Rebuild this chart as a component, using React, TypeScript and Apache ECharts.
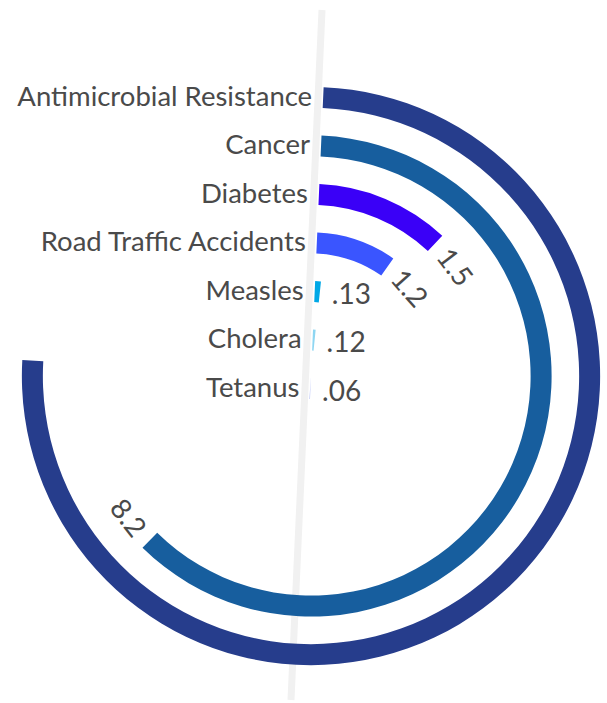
import React, { useEffect, useRef } from 'react';
import * as echarts from 'echarts';

// Annual deaths (millions)
const categories = [
  'Antimicrobial Resistance',
  'Cancer',
  'Diabetes',
  'Road Traffic Accidents',
  'Measles',
  'Cholera',
  'Tetanus',
];
const deaths = [10, 8.2, 1.5, 1.2, 0.13, 0.12, 0.06];
const hiddenValueLabels = ['Antimicrobial Resistance'];
const colors = ['#263d8c', '#175e9e', '#3a00f7', '#3a55ff', '#00a8e6', '#8ed6f2', '#b9c3f7'];

const ANGLE_MAX = 13.3;
const BAR_WIDTH = 21;
const FONT = 'Lato, "Open Sans", sans-serif';
const TEXT_COLOR = '#4a4a4a';

function fmt(v: number): string {
  return String(v).replace(/^0\./, '.');
}

export default function App() {
  const ref = useRef<HTMLDivElement>(null);
  useEffect(() => {
    if (!ref.current) return;
    const chart = echarts.init(ref.current, undefined, { renderer: 'svg' });
    const option: any = {
      animation: false,
      backgroundColor: '#ffffff',
      graphic: [
        {
          type: 'line',
          z: 0,
          shape: { x1: 322, y1: 10, x2: 291, y2: 700 },
          style: { stroke: '#f1f1f1', lineWidth: 7 },
        },
      ],
      polar: { center: [311, 376], radius: [-36.8, 302.9] },
      angleAxis: {
        type: 'value',
        min: 0,
        max: ANGLE_MAX,
        startAngle: 87.5,
        clockwise: true,
        axisLine: { show: false },
        axisTick: { show: false },
        axisLabel: { show: false },
        splitLine: { show: false },
      },
      radiusAxis: {
        type: 'category',
        data: categories,
        inverse: true,
        axisLine: { show: false },
        axisTick: { show: false },
        axisLabel: { show: false },
        splitLine: { show: false },
      },
      series: [
        {
          type: 'custom',
          coordinateSystem: 'polar',
          z: 2,
          data: deaths.map((v, i) => [i, v]),
          renderItem: (params: any, api: any) => {
            const cs = params.coordSys;
            const cx = cs.cx;
            const cy = cs.cy;
            const i = api.value(0) as number;
            const v = api.value(1) as number;
            const p0 = api.coord([i, 0]);
            const p1 = api.coord([i, v]);
            const r = Math.hypot(p0[0] - cx, p0[1] - cy);
            const a0 = Math.atan2(p0[1] - cy, p0[0] - cx);
            let a1 = Math.atan2(p1[1] - cy, p1[0] - cx);
            while (a1 < a0) a1 += Math.PI * 2;
            const half = BAR_WIDTH / 2;
            const children: any[] = [
              {
                type: 'sector',
                shape: {
                  cx,
                  cy,
                  r0: Math.max(0, r - half),
                  r: r + half,
                  startAngle: a0,
                  endAngle: a1,
                  clockwise: true,
                },
                style: { fill: colors[i] },
              },
              {
                type: 'text',
                x: p0[0] - 11,
                y: p0[1] - 2.5,
                style: {
                  text: categories[i],
                  align: 'right',
                  verticalAlign: 'middle',
                  font: `27.5px ${FONT}`,
                  fill: TEXT_COLOR,
                },
              },
            ];
            if (!hiddenValueLabels.includes(categories[i])) {
              const sweep = a1 - a0;
              if (sweep < 0.15) {
                children.push({
                  type: 'text',
                  x: p1[0] + 12,
                  y: p1[1] + 1,
                  style: {
                    text: fmt(v),
                    align: 'left',
                    verticalAlign: 'middle',
                    font: `28px ${FONT}`,
                    fill: TEXT_COLOR,
                  },
                });
              } else {
                const aL = a1 + 31 / r;
                let d = aL + Math.PI / 2;
                while (d > Math.PI) d -= Math.PI * 2;
                while (d < -Math.PI) d += Math.PI * 2;
                if (d > Math.PI / 2) d -= Math.PI;
                if (d < -Math.PI / 2) d += Math.PI;
                children.push({
                  type: 'text',
                  x: cx + r * Math.cos(aL),
                  y: cy + r * Math.sin(aL),
                  rotation: -d,
                  style: {
                    text: fmt(v),
                    align: 'center',
                    verticalAlign: 'middle',
                    font: `28px ${FONT}`,
                    fill: TEXT_COLOR,
                  },
                });
              }
            }
            return { type: 'group', children };
          },
        },
      ],
    };
    chart.setOption(option);
    return () => chart.dispose();
  }, []);
  return (
    <div
      ref={ref}
      style={{ position: 'absolute', left: 0, top: 0, width: 607, height: 703, background: '#fff' }}
    />
  );
}
